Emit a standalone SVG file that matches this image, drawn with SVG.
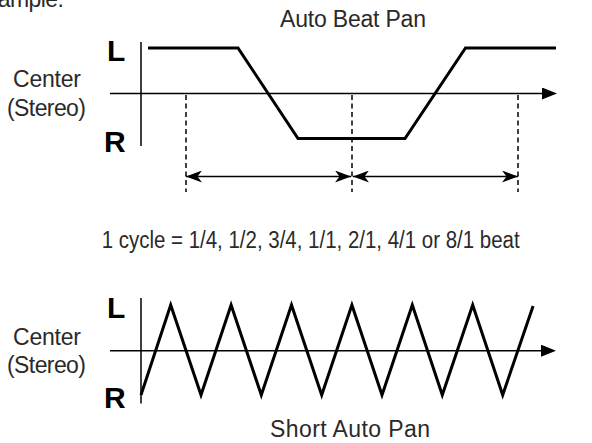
<svg xmlns="http://www.w3.org/2000/svg" width="592" height="443" viewBox="0 0 592 443">
<style>
  .t { font-family: "Liberation Sans", Arial, sans-serif; font-size: 23px; fill: #2a2a2a; }
  .lr { font-family: "Liberation Sans", Arial, sans-serif; font-size: 30px; font-weight: bold; fill: #000; }
  .axis { stroke: #000; stroke-width: 1.5; fill: none; }
  .trace { stroke: #000; stroke-width: 3; fill: none; stroke-linejoin: miter; }
  .dash { stroke: #000; stroke-width: 1.5; stroke-dasharray: 5 3.5; fill: none; }
  .dim { stroke: #000; stroke-width: 1.5; fill: none; }
</style>
<defs>
  <marker id="axArrow" viewBox="0 0 15 12" refX="0" refY="6" markerWidth="15" markerHeight="12" markerUnits="userSpaceOnUse" orient="auto">
    <path d="M0,0 L15,6 L0,12 Z" fill="#000"/>
  </marker>
  <marker id="dimArrow" viewBox="0 0 16 12" refX="16" refY="6" markerWidth="16" markerHeight="12" markerUnits="userSpaceOnUse" orient="auto-start-reverse">
    <path d="M16,6 L0,0 L4.5,6 L0,12 Z" fill="#000"/>
  </marker>
</defs>

<text class="t" x="64" y="7" text-anchor="end" textLength="92">Example:</text>

<g id="top-chart">
  <text class="t" x="280" y="27" textLength="146">Auto Beat Pan</text>
  <text class="lr" x="107" y="61">L</text>
  <text class="lr" x="104" y="152">R</text>
  <text class="t" x="13" y="87" textLength="68">Center</text>
  <text class="t" x="7" y="116" textLength="79">(Stereo)</text>
  <polyline class="trace" points="148,48 238,48 298,138.5 405,138.5 465.5,48 556,48"/>
  <text class="t" x="101.7" y="248" textLength="418" lengthAdjust="spacingAndGlyphs">1 cycle = 1/4, 1/2, 3/4, 1/1, 2/1, 4/1 or 8/1 beat</text>
</g>

<g id="bottom-chart">
  <text class="t" x="270" y="437" textLength="160">Short Auto Pan</text>
  <text class="lr" x="107" y="318">L</text>
  <text class="lr" x="104" y="408">R</text>
  <text class="t" x="13" y="345" textLength="68">Center</text>
  <text class="t" x="7" y="373" textLength="79">(Stereo)</text>
  <polyline class="trace" points="141,395 170.7,305 201,395 231.1,305 261.3,395 291.5,305 321.7,395 351.9,305 382,395 412.3,305 442.3,395 472.7,305 502.7,395 533.1,306"/>
</g>

<g id="connectors">
  <line class="axis" x1="141" y1="42" x2="141" y2="146"/>
  <line class="axis" x1="110" y1="93.5" x2="542" y2="93.5" marker-end="url(#axArrow)"/>
  <line class="dash" x1="186" y1="95" x2="186" y2="192"/>
  <line class="dash" x1="352" y1="95" x2="352" y2="192"/>
  <line class="dash" x1="518" y1="95" x2="518" y2="192"/>
  <line class="dim" x1="186" y1="176.5" x2="351" y2="176.5" marker-start="url(#dimArrow)" marker-end="url(#dimArrow)"/>
  <line class="dim" x1="353" y1="176.5" x2="518" y2="176.5" marker-start="url(#dimArrow)" marker-end="url(#dimArrow)"/>
  <line class="axis" x1="141" y1="298" x2="141" y2="403.5"/>
  <line class="axis" x1="110" y1="350.7" x2="541" y2="350.7" marker-end="url(#axArrow)"/>
</g>
</svg>
